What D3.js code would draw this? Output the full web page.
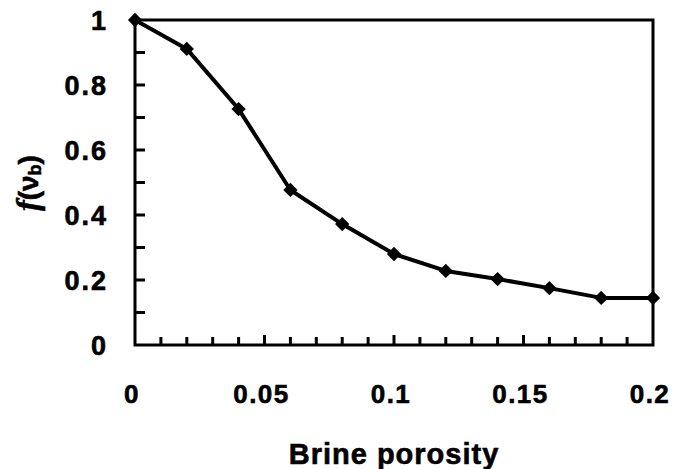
<!DOCTYPE html>
<html>
<head>
<meta charset="utf-8">
<script src="https://cdn.jsdelivr.net/npm/d3@7"></script>
<style>
  body { margin: 0; background: #fff; }
  text { font-family: "Liberation Sans", Arial, sans-serif; font-weight: bold; fill: #000; stroke: #000; stroke-width: 0.6; }
</style>
</head>
<body>
<div id="chart"></div>
<script>
const POROSITY = [0, 0.02, 0.04, 0.06, 0.08, 0.1, 0.12, 0.14, 0.16, 0.18, 0.2];
const F_VALUES = [1, 0.911, 0.726, 0.477, 0.372, 0.28, 0.228, 0.203, 0.175, 0.145, 0.145];
const X_TICKS = [0, 0.05, 0.1, 0.15, 0.2];
const Y_TICKS = [0, 0.2, 0.4, 0.6, 0.8, 1];

const w = 673, h = 469;
const m = { top: 20, right: 20, bottom: 124, left: 135 };
const iw = w - m.left - m.right;
const ih = h - m.top - m.bottom;

const svg = d3.select('#chart').append('svg')
  .attr('width', w).attr('height', h);

const g = svg.append('g').attr('transform', `translate(${m.left},${m.top})`);

const x = d3.scaleLinear().domain([0, 0.2]).range([0, iw]);
const y = d3.scaleLinear().domain([0, 1]).range([ih, 0]);

// frame
g.append('rect')
  .attr('width', iw).attr('height', ih)
  .attr('fill', 'none').attr('stroke', '#000').attr('stroke-width', 3);

// minor ticks, pointing inward
const xMinor = d3.range(1, 20).map(i => i / 100);
g.selectAll('.xt').data(xMinor).join('line')
  .attr('x1', d => x(d)).attr('x2', d => x(d))
  .attr('y1', ih).attr('y2', d => ih - (Math.abs(d * 20 - Math.round(d * 20)) < 1e-6 ? 10 : 8))
  .attr('stroke', '#000').attr('stroke-width', 3);

const yMinor = d3.range(1, 10).map(i => i / 10);
g.selectAll('.yt').data(yMinor).join('line')
  .attr('x1', 0).attr('x2', 10)
  .attr('y1', d => y(d)).attr('y2', d => y(d))
  .attr('stroke', '#000').attr('stroke-width', 3);

// tick labels
g.selectAll('.xl').data(X_TICKS).join('text')
  .attr('x', d => x(d) - 3).attr('y', ih + 58)
  .attr('text-anchor', 'middle')
  .attr('font-size', 26).attr('letter-spacing', 1.5)
  .text(d => String(d));

g.selectAll('.yl').data(Y_TICKS).join('text')
  .attr('x', -27).attr('y', d => y(d) + 10)
  .attr('text-anchor', 'end')
  .attr('font-size', 27).attr('letter-spacing', 2)
  .text(d => String(d));

// axis titles
svg.append('text')
  .attr('x', m.left + iw / 2).attr('y', 464)
  .attr('text-anchor', 'middle')
  .attr('font-size', 29).attr('letter-spacing', 1)
  .text('Brine porosity');

const yt = svg.append('text')
  .attr('transform', 'translate(38,183) rotate(-90)')
  .attr('text-anchor', 'middle')
  .attr('font-size', 32);
yt.append('tspan').attr('font-style', 'italic')
  .style('font-family', '"Liberation Serif", serif').text('f');
yt.append('tspan').attr('font-size', 28).text('(ν');
yt.append('tspan').attr('font-size', 18).attr('dy', 3).text('b');
yt.append('tspan').attr('font-size', 28).attr('dy', -3).text(')');

// line
const data = POROSITY.map((p, i) => ({ p, f: F_VALUES[i] }));
const line = d3.line().x(d => x(d.p)).y(d => y(d.f));

g.append('path').datum(data)
  .attr('fill', 'none').attr('stroke', '#000')
  .attr('stroke-width', 4).attr('stroke-linejoin', 'round')
  .attr('d', line);

g.selectAll('.pt').data(data).join('path')
  .attr('transform', d => `translate(${x(d.p)},${y(d.f)})`)
  .attr('d', d3.symbol(d3.symbolDiamond2, 130)())
  .attr('fill', '#000');
</script>
</body>
</html>
